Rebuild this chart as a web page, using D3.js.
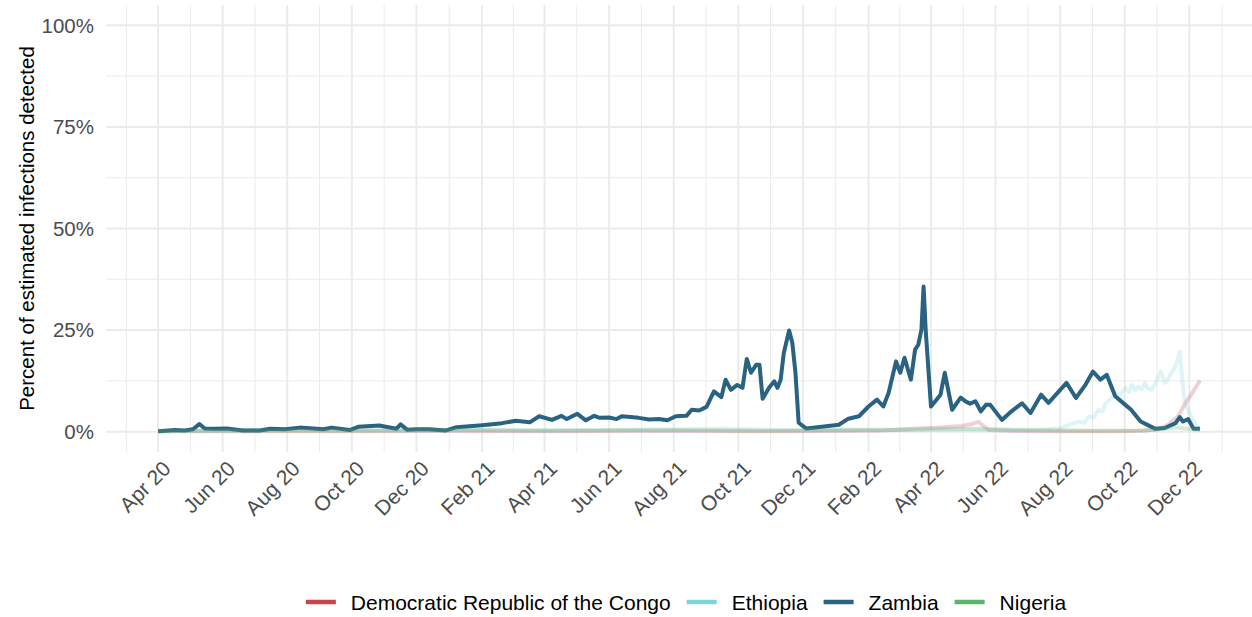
<!DOCTYPE html>
<html>
<head>
<meta charset="utf-8">
<script src="https://cdn.jsdelivr.net/npm/d3@7"></script>
<style>
  body { margin: 0; background: #fff; }
  #chart { width: 1252px; height: 617px; }
  text { font-family: "Liberation Sans", Arial, Helvetica, sans-serif; }
</style>
</head>
<body>
<div id="chart"></div>
<script>

// Countries, in legend order, and their colours
var countries = ['Democratic Republic of the Congo', 'Ethiopia', 'Zambia', 'Nigeria'];
var colors = ['#c9444f', '#80d3dc', '#2a6381', '#5db46a'];
var highlight = 'Zambia';

// Percent of estimated infections detected, [date, percent]
var drc = [
  ['2020-04-01', 0.1], ['2020-07-01', 0.1], ['2020-10-01', 0.1], ['2021-01-01', 0.15],
  ['2021-04-01', 0.1], ['2021-07-01', 0.2], ['2021-10-01', 0.1], ['2022-01-01', 0.15],
  ['2022-02-15', 0.3], ['2022-03-15', 0.7], ['2022-04-10', 1.0], ['2022-04-30', 1.4],
  ['2022-05-10', 1.9], ['2022-05-16', 2.4], ['2022-05-20', 1.5], ['2022-05-26', 0.4],
  ['2022-06-15', 0.2], ['2022-08-01', 0.1], ['2022-10-01', 0.1], ['2022-10-20', 0.3],
  ['2022-11-02', 0.6], ['2022-11-11', 1.7], ['2022-11-20', 3.7], ['2022-11-27', 6.9],
  ['2022-12-05', 10.0], ['2022-12-11', 12.6]
];

var ethiopia = [
  ['2020-04-01', 0.1], ['2020-06-01', 0.3], ['2020-08-01', 0.5], ['2020-10-01', 0.4],
  ['2020-12-01', 0.3], ['2021-02-01', 0.4], ['2021-04-01', 0.3], ['2021-06-01', 0.4],
  ['2021-08-01', 0.6], ['2021-09-15', 0.8], ['2021-10-15', 0.6], ['2021-12-01', 0.3],
  ['2022-02-01', 0.4], ['2022-04-01', 0.6], ['2022-05-15', 0.5], ['2022-07-01', 0.4],
  ['2022-07-20', 0.6], ['2022-08-02', 0.9], ['2022-08-10', 1.8], ['2022-08-18', 2.5],
  ['2022-08-24', 2.2], ['2022-08-28', 3.7], ['2022-09-02', 3.5], ['2022-09-06', 5.4],
  ['2022-09-10', 5.0], ['2022-09-13', 7.0], ['2022-09-18', 8.0], ['2022-09-22', 9.5],
  ['2022-09-26', 9.0], ['2022-10-02', 10.7], ['2022-10-05', 9.8], ['2022-10-08', 11.5],
  ['2022-10-11', 10.2], ['2022-10-14', 11.1], ['2022-10-17', 10.4], ['2022-10-20', 12.0],
  ['2022-10-23', 10.6], ['2022-10-26', 10.3], ['2022-10-30', 11.8], ['2022-11-04', 14.8],
  ['2022-11-08', 12.0], ['2022-11-11', 13.0], ['2022-11-14', 14.4], ['2022-11-18', 16.0],
  ['2022-11-20', 17.7], ['2022-11-22', 19.7], ['2022-11-25', 11.0], ['2022-11-27', 7.0],
  ['2022-12-02', 4.0], ['2022-12-07', 1.7], ['2022-12-11', 0.5]
];

var zambia = [
  ['2020-04-01', 0.1], ['2020-04-17', 0.4], ['2020-04-26', 0.3], ['2020-05-04', 0.6],
  ['2020-05-10', 1.9], ['2020-05-15', 0.8], ['2020-05-25', 0.7], ['2020-06-05', 0.8],
  ['2020-06-20', 0.3], ['2020-07-06', 0.3], ['2020-07-16', 0.7], ['2020-07-30', 0.6],
  ['2020-08-13', 1.0], ['2020-09-04', 0.6], ['2020-09-12', 1.0], ['2020-09-29', 0.4],
  ['2020-10-07', 1.2], ['2020-10-27', 1.5], ['2020-11-12', 0.7], ['2020-11-16', 1.8],
  ['2020-11-22', 0.5], ['2020-12-01', 0.6], ['2020-12-13', 0.6], ['2020-12-29', 0.3],
  ['2021-01-08', 1.1], ['2021-02-01', 1.6], ['2021-02-20', 2.1], ['2021-03-05', 2.7],
  ['2021-03-18', 2.3], ['2021-03-27', 3.8], ['2021-04-08', 2.9], ['2021-04-17', 3.9],
  ['2021-04-22', 3.1], ['2021-05-02', 4.4], ['2021-05-10', 2.8], ['2021-05-18', 3.9],
  ['2021-05-23', 3.4], ['2021-06-01', 3.5], ['2021-06-08', 3.1], ['2021-06-13', 3.8],
  ['2021-06-29', 3.4], ['2021-07-09', 3.0], ['2021-07-18', 3.1], ['2021-07-26', 2.8],
  ['2021-08-03', 3.8], ['2021-08-13', 3.9], ['2021-08-18', 5.4], ['2021-08-25', 5.2],
  ['2021-09-01', 6.1], ['2021-09-08', 9.9], ['2021-09-15', 8.5], ['2021-09-19', 12.8],
  ['2021-09-24', 10.3], ['2021-09-30', 11.5], ['2021-10-05', 10.8], ['2021-10-09', 17.9],
  ['2021-10-13', 14.5], ['2021-10-18', 16.5], ['2021-10-21', 16.5], ['2021-10-24', 8.1],
  ['2021-10-30', 10.8], ['2021-11-04', 12.4], ['2021-11-07', 10.8], ['2021-11-10', 12.8],
  ['2021-11-13', 19.4], ['2021-11-18', 24.9], ['2021-11-21', 21.9], ['2021-11-24', 14.5],
  ['2021-11-27', 2.2], ['2021-12-04', 0.8], ['2021-12-19', 1.2], ['2022-01-04', 1.7],
  ['2022-01-13', 3.2], ['2022-01-23', 3.8], ['2022-02-01', 6.2], ['2022-02-09', 7.9],
  ['2022-02-15', 6.2], ['2022-02-20', 9.6], ['2022-02-27', 17.3], ['2022-03-03', 14.5],
  ['2022-03-07', 18.2], ['2022-03-13', 12.8], ['2022-03-17', 20.2], ['2022-03-20', 21.4],
  ['2022-03-23', 25.1], ['2022-03-25', 35.7], ['2022-03-27', 25.0], ['2022-04-01', 6.2],
  ['2022-04-10', 9.1], ['2022-04-14', 14.5], ['2022-04-21', 5.4], ['2022-04-29', 8.4],
  ['2022-05-04', 7.4], ['2022-05-08', 6.9], ['2022-05-13', 7.5], ['2022-05-18', 5.0],
  ['2022-05-23', 6.6], ['2022-05-27', 6.6], ['2022-06-07', 2.9], ['2022-06-16', 5.0],
  ['2022-06-26', 7.0], ['2022-07-04', 4.6], ['2022-07-14', 9.1], ['2022-07-21', 7.1],
  ['2022-08-07', 12.0], ['2022-08-16', 8.3], ['2022-08-25', 11.6], ['2022-09-01', 14.8],
  ['2022-09-08', 12.8], ['2022-09-14', 14.0], ['2022-09-22', 8.7], ['2022-09-28', 7.4],
  ['2022-10-07', 5.4], ['2022-10-16', 2.5], ['2022-10-30', 0.7], ['2022-11-08', 0.9],
  ['2022-11-18', 2.1], ['2022-11-22', 3.6], ['2022-11-25', 2.5], ['2022-11-30', 3.1],
  ['2022-12-05', 0.7], ['2022-12-11', 0.7]
];

var nigeria = [
  ['2020-04-01', 0.1], ['2020-07-01', 0.3], ['2020-10-01', 0.2], ['2021-01-15', 0.4],
  ['2021-04-01', 0.3], ['2021-08-15', 0.4], ['2021-11-01', 0.2], ['2022-01-10', 0.5],
  ['2022-03-01', 0.4], ['2022-05-15', 0.7], ['2022-06-15', 0.5], ['2022-09-01', 0.2],
  ['2022-10-20', 0.3], ['2022-11-20', 1.0], ['2022-12-11', 0.4]
];

var yTicks = [0, 25, 50, 75, 100];
var yTickLabels = ['0%', '25%', '50%', '75%', '100%'];
var yTitle = 'Percent of estimated infections detected';

function draw() {

  var parse = d3.timeParse('%Y-%m-%d');
  var series = [drc, ethiopia, zambia, nigeria].map(function (s, i) {
    return {
      name: countries[i],
      color: colors[i],
      values: s.map(function (d) { return { date: parse(d[0]), value: d[1] }; })
    };
  });

  var panel = { left: 106, right: 1252, top: 5, bottom: 452 };

  // ggplot style 5% expansion around the data
  var ext = d3.extent(d3.merge(series.map(function (s) { return s.values; })), function (d) { return d.date; });
  var pad = (ext[1] - ext[0]) * 0.05;

  var x = d3.scaleTime()
    .domain([new Date(+ext[0] - pad), new Date(+ext[1] + pad)])
    .range([panel.left, panel.right]);

  var y = d3.scaleLinear()
    .domain([-5, 105])
    .range([panel.bottom, panel.top]);

  var svg = d3.select('#chart').append('svg')
    .attr('width', 1252)
    .attr('height', 617);

  // Grid: breaks every two months starting in April, minor ones halfway between
  var grid = svg.append('g');

  var everyOther = d3.timeMonth.filter(function (d) { return d.getMonth() % 2 === 1; });
  var majorX = x.ticks(everyOther);
  var minorX = [];
  var prev = d3.timeMonth.offset(majorX[0], -2);
  majorX.concat([d3.timeMonth.offset(majorX[majorX.length - 1], 2)]).forEach(function (d) {
    minorX.push(new Date((+prev + +d) / 2));
    prev = d;
  });
  minorX = minorX.filter(function (d) { return x(d) >= panel.left && x(d) <= panel.right; });

  var minorY = [12.5, 37.5, 62.5, 87.5];

  grid.selectAll('.minor-y')
      .data(minorY)
      .enter()
    .append('line')
      .attr('x1', panel.left).attr('x2', panel.right)
      .attr('y1', function (d) { return y(d); })
      .attr('y2', function (d) { return y(d); })
      .attr('stroke', '#ebebeb')
      .attr('stroke-width', 1);

  grid.selectAll('.minor-x')
      .data(minorX)
      .enter()
    .append('line')
      .attr('x1', function (d) { return x(d); })
      .attr('x2', function (d) { return x(d); })
      .attr('y1', panel.top).attr('y2', panel.bottom)
      .attr('stroke', '#ebebeb')
      .attr('stroke-width', 1);

  grid.selectAll('.major-y')
      .data(yTicks)
      .enter()
    .append('line')
      .attr('x1', panel.left).attr('x2', panel.right)
      .attr('y1', function (d) { return y(d); })
      .attr('y2', function (d) { return y(d); })
      .attr('stroke', '#ebebeb')
      .attr('stroke-width', 2);

  grid.selectAll('.major-x')
      .data(majorX)
      .enter()
    .append('line')
      .attr('x1', function (d) { return x(d); })
      .attr('x2', function (d) { return x(d); })
      .attr('y1', panel.top).attr('y2', panel.bottom)
      .attr('stroke', '#ebebeb')
      .attr('stroke-width', 2);

  // Axis labels
  var fmt = d3.timeFormat('%b %y');

  svg.append('g').selectAll('text')
      .data(majorX)
      .enter()
    .append('text')
      .attr('transform', function (d) { return 'translate(' + (x(d) + 5) + ',' + 461 + ') rotate(-45)'; })
      .attr('text-anchor', 'end')
      .attr('dy', '0.6em')
      .attr('font-size', 21)
      .attr('fill', '#4d4d4d')
      .text(fmt);

  svg.append('g').selectAll('text')
      .data(yTicks)
      .enter()
    .append('text')
      .attr('x', 94)
      .attr('y', function (d) { return y(d); })
      .attr('dy', '0.36em')
      .attr('text-anchor', 'end')
      .attr('font-size', 20.5)
      .attr('fill', '#4d4d4d')
      .text(function (d, i) { return yTickLabels[i]; });

  svg.append('text')
    .attr('transform', 'translate(27,' + ((panel.top + panel.bottom) / 2) + ') rotate(-90)')
    .attr('text-anchor', 'middle')
    .attr('dy', '0.36em')
    .attr('font-size', 20.5)
    .attr('fill', '#000')
    .text(yTitle);

  // Lines
  var line = d3.line()
    .x(function (d) { return x(d.date); })
    .y(function (d) { return y(d.value); });

  svg.append('g').selectAll('path')
      .data(series)
      .enter()
    .append('path')
      .attr('d', function (d) { return line(d.values); })
      .attr('fill', 'none')
      .attr('stroke', function (d) { return d.color; })
      .attr('stroke-opacity', function (d) { return d.name === highlight ? 1 : 0.25; })
      .attr('stroke-width', 4)
      .attr('stroke-linejoin', 'round')
      .attr('stroke-linecap', 'butt');

  // Legend
  var legend = svg.append('g');
  var ly = 602;
  var cx = 0;
  series.forEach(function (s) {
    var item = legend.append('g').attr('transform', 'translate(' + cx + ',0)');
    item.append('line')
      .attr('x1', 0).attr('x2', 30)
      .attr('y1', ly).attr('y2', ly)
      .attr('stroke', s.color)
      .attr('stroke-width', 4.5);
    var t = item.append('text')
      .attr('x', 45)
      .attr('y', ly)
      .attr('dy', '0.36em')
      .attr('font-size', 21)
      .attr('fill', '#000')
      .text(s.name);
    cx += 45 + t.node().getComputedTextLength() + 16;
  });
  var total = cx - 16;
  legend.attr('transform', 'translate(' + (686 - total / 2) + ',0)');
}

draw();
</script>
</body>
</html>
